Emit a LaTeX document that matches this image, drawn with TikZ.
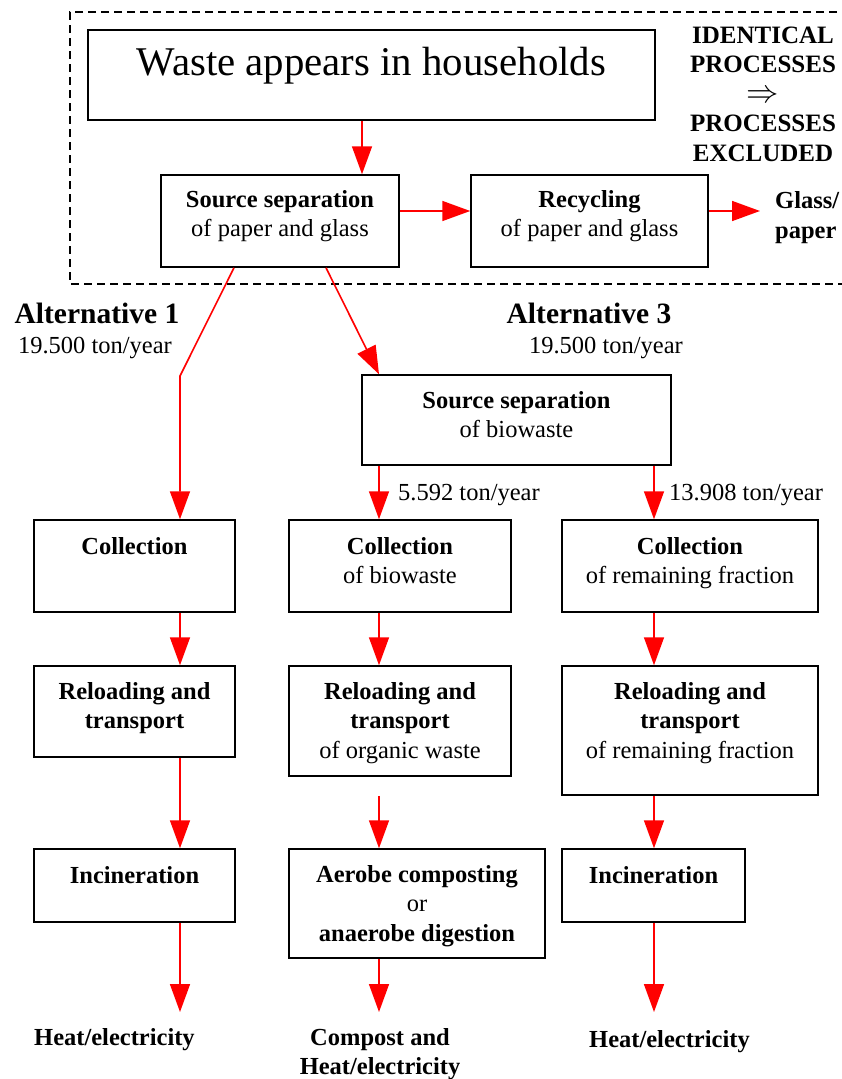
\documentclass[tikz,border=0pt]{standalone}
\usepackage{fontspec}
\setmainfont{Liberation Serif}
\usetikzlibrary{arrows.meta,calc}
\begin{document}
\begin{tikzpicture}[x=1pt,y=-1pt,
  box/.style={draw=black,line width=1.5pt,inner sep=0pt},
  txt/.style={anchor=base,align=center,inner sep=0pt,font=\fontsize{24.5}{29.5}\selectfont},
  flow/.style={draw=red,line width=1.6pt},
  arr/.style={flow,-{Triangle[length=28pt,width=20pt]}}]
\useasboundingbox (0,0) rectangle (842,1079);

% frame around the shared processes
\draw[line width=1.4pt,dash pattern=on 8pt off 5pt] (850,12) -- (70,12) -- (70,284) -- (850,284);

% column x positions for the flow lines
\coordinate (xh) at (362,0);
\coordinate (x1) at (180,0);
\coordinate (x2) at (379,0);
\coordinate (x3) at (654,0);
\coordinate (s1) at (234,0);
\coordinate (s2) at (326,0);
\coordinate (yr) at (0,211);

% boxes
\node[box,minimum width=567pt,minimum height=90pt] (hh) at (371.5,75) {};
\node[box,minimum width=238pt,minimum height=92pt] (src1) at (280,221) {};
\node[box,minimum width=237pt,minimum height=92pt] (rec) at (589.5,221) {};
\node[box,minimum width=309pt,minimum height=90pt] (src2) at (516.5,420) {};
\node[box,minimum width=201pt,minimum height=92pt] (coll1) at (134.5,566) {};
\node[box,minimum width=222pt,minimum height=92pt] (coll2) at (400,566) {};
\node[box,minimum width=256pt,minimum height=92pt] (coll3) at (690,566) {};
\node[box,minimum width=201pt,minimum height=91pt] (rel1) at (134.5,711.5) {};
\node[box,minimum width=222pt,minimum height=110pt] (rel2) at (400,721) {};
\node[box,minimum width=256pt,minimum height=129pt] (rel3) at (690,730.5) {};
\node[box,minimum width=201pt,minimum height=73pt] (inc1) at (134.5,885.5) {};
\node[box,minimum width=256pt,minimum height=109pt] (aer) at (417,903.5) {};
\node[box,minimum width=183pt,minimum height=73pt] (inc3) at (653.5,885.5) {};

% box texts (the base anchor sits on the last line)
\node[txt,font=\fontsize{40.8}{46}\selectfont] (thh) at ([yshift=-46pt]hh.north) {Waste appears in households};
\node[txt] (tsrc1) at ([yshift=-62.5pt]src1.north) {\textbf{Source separation}\\of paper and glass};
\node[txt] (trec) at ([yshift=-62.5pt]rec.north) {\textbf{Recycling}\\of paper and glass};
\node[txt] (tsrc2) at ([yshift=-63.5pt]src2.north) {\textbf{Source separation}\\of biowaste};
\node[txt] (tcoll1) at ([yshift=-35pt]coll1.north) {\textbf{Collection}};
\node[txt] (tcoll2) at ([yshift=-64.5pt]coll2.north) {\textbf{Collection}\\of biowaste};
\node[txt] (tcoll3) at ([yshift=-64.5pt]coll3.north) {\textbf{Collection}\\of remaining fraction};
\node[txt] (trel1) at ([yshift=-63.5pt]rel1.north) {\textbf{Reloading and}\\\textbf{transport}};
\node[txt] (trel2) at ([yshift=-93pt]rel2.north) {\textbf{Reloading and}\\\textbf{transport}\\of organic waste};
\node[txt] (trel3) at ([yshift=-93pt]rel3.north) {\textbf{Reloading and}\\\textbf{transport}\\of remaining fraction};
\node[txt] (tinc1) at ([yshift=-35pt]inc1.north) {\textbf{Incineration}};
\node[txt] (taer) at ([yshift=-93pt]aer.north) {\textbf{Aerobe composting}\\or\\\textbf{anaerobe digestion}};
\node[txt] (tinc3) at ([yshift=-35pt]inc3.north) {\textbf{Incineration}};

% side texts
\node[txt,font=\fontsize{25}{29.5}\selectfont\bfseries] (ident) at (763,161)
  {IDENTICAL\\PROCESSES\\\scalebox{1.3}{$\Rightarrow$}\\PROCESSES\\EXCLUDED};
\node[txt,anchor=base west,align=left,font=\fontsize{24.5}{30}\selectfont\bfseries] (glass) at (775,238) {Glass/\\paper};
\node[txt,font=\fontsize{29.5}{34}\selectfont\bfseries] (alt1) at (97,323) {Alternative 1};
\node[txt] (amt1) at (95,353) {19.500 ton/year};
\node[txt,font=\fontsize{29.5}{34}\selectfont\bfseries] (alt3) at (589,323) {Alternative 3};
\node[txt] (amt3) at (606,353) {19.500 ton/year};
\node[txt,anchor=base west] (amtb) at (398,500) {5.592 ton/year};
\node[txt,anchor=base west] (amtr) at (669,500) {13.908 ton/year};

% outputs
\node[txt,anchor=base west] (out1) at (34,1045) {\textbf{Heat/electricity}};
\node[txt] (out2) at (380,1074.5) {\textbf{Compost and}\\\textbf{Heat/electricity}};
\node[txt,anchor=base west] (out3) at (589,1047) {\textbf{Heat/electricity}};
\coordinate (glassend) at (760,211);
\coordinate (bend1) at (180,376);
\coordinate (o1) at (180,1012);
\coordinate (o2) at (379,1012);
\coordinate (o3) at (654,1012);

% flows
\draw[arr] (hh.south -| xh) -- (src1.north -| xh);
\draw[arr] (src1.east |- yr) -- (rec.west |- yr);
\draw[arr] (rec.east |- yr) -- (glassend);
\draw[arr] (src1.south -| s1) -- (bend1) -- (coll1.north -| x1);
\draw[arr] (src1.south -| s2) -- (src2.north -| x2);
\draw[arr] (src2.south -| x2) -- (coll2.north -| x2);
\draw[arr] (src2.south -| x3) -- (coll3.north -| x3);

\draw[arr] (coll1.south -| x1) -- (rel1.north -| x1);
\draw[arr] (rel1.south -| x1) -- (inc1.north -| x1);
\draw[arr] (inc1.south -| x1) -- (o1);

\draw[arr] (coll2.south -| x2) -- (rel2.north -| x2);
\draw[arr] ([yshift=-19pt]rel2.south -| x2) -- (aer.north -| x2);
\draw[arr] (aer.south -| x2) -- (o2);

\draw[arr] (coll3.south -| x3) -- (rel3.north -| x3);
\draw[arr] (rel3.south -| x3) -- (inc3.north -| x3);
\draw[arr] (inc3.south -| x3) -- (o3);
\end{tikzpicture}
\end{document}
